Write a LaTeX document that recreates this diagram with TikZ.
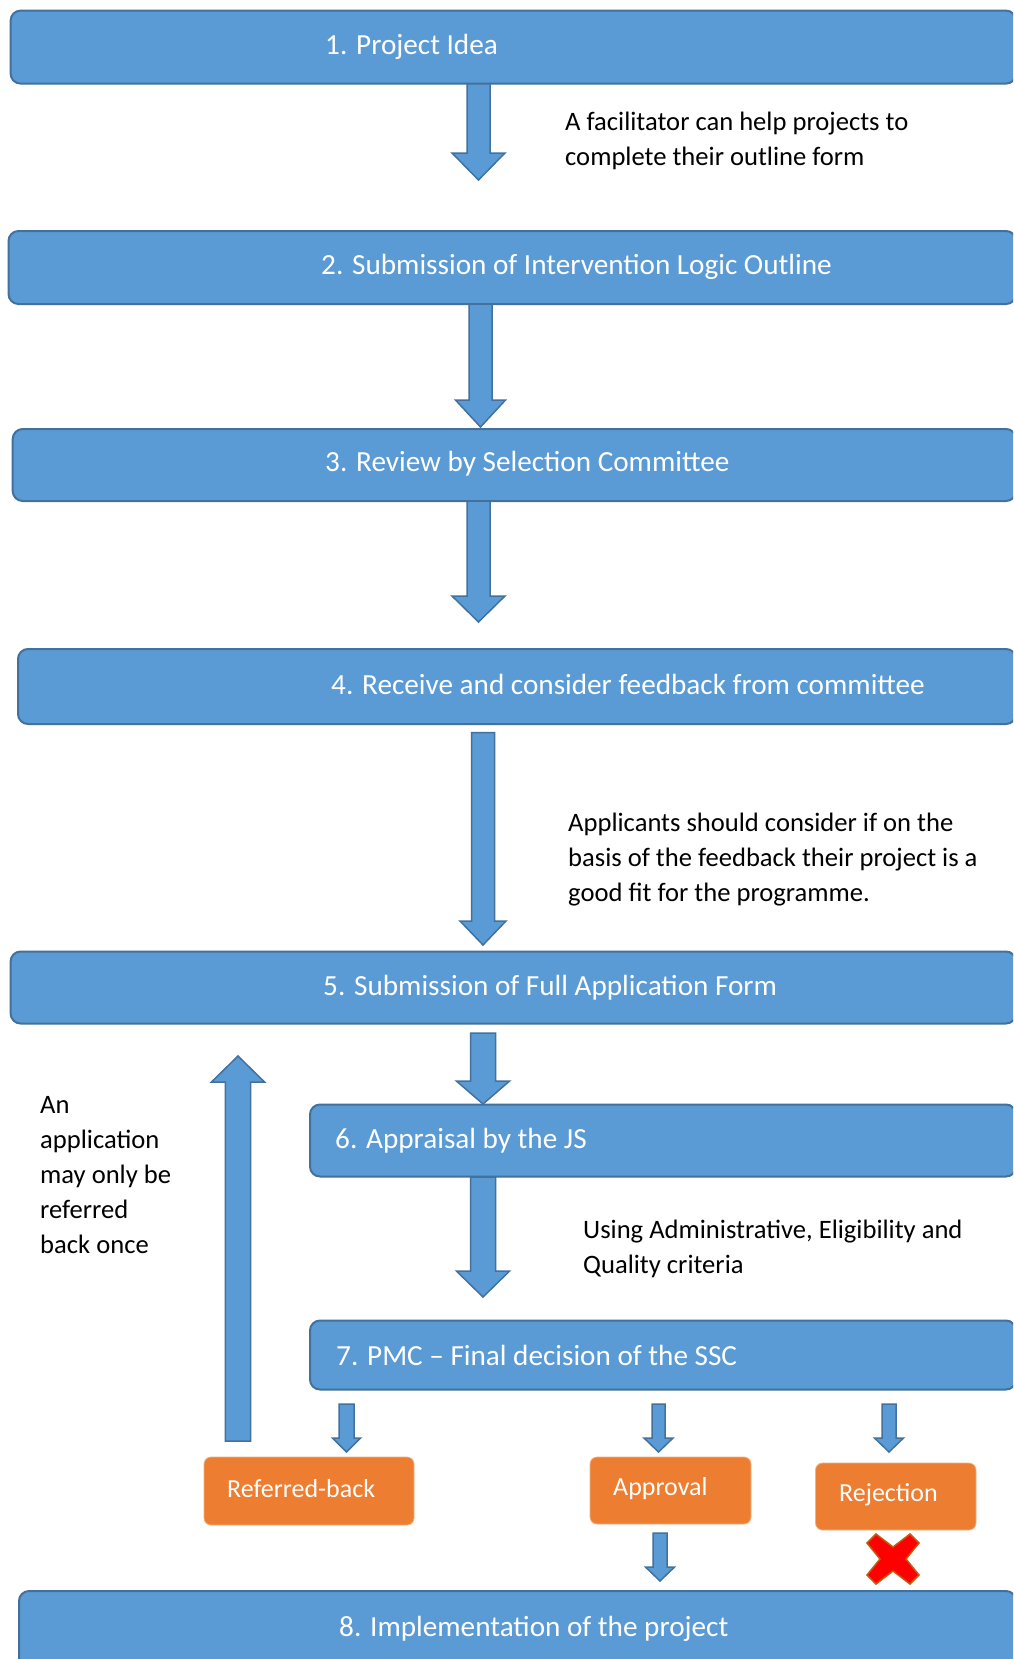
\documentclass[tikz,border=0pt]{standalone}
\usepackage{fontspec}
\setmainfont{Carlito}
\definecolor{bfill}{HTML}{5B9BD5}
\definecolor{bline}{HTML}{41719C}
\definecolor{ofill}{HTML}{ED7D31}
\definecolor{oline}{HTML}{F4B183}
\definecolor{xline}{HTML}{C55A11}
\newcommand{\bkarrow}[6]{% x, tail, base, tip, shaft half, head half
  \draw[arrowsty] (#1-#5,#2) -- (#1+#5,#2) -- (#1+#5,#3) -- (#1+#6,#3) -- (#1,#4) -- (#1-#6,#3) -- (#1-#5,#3) -- cycle;}
\tikzset{
  bbox/.style={draw=bline, fill=bfill, line width=2pt, rounded corners=10pt, inner sep=0pt},
  obox/.style={draw=oline, fill=ofill, line width=0.8pt, rounded corners=7pt, inner sep=0pt},
  arrowsty/.style={draw=bline, fill=bfill, line width=1.5pt, line join=miter},
  btext/.style={text=white, font=\fontsize{29.2}{35}\selectfont, anchor=west, inner sep=0pt},
  otext/.style={text=white, font=\fontsize{26}{32}\selectfont, anchor=west, inner sep=0pt},
  note/.style={text=black, font=\fontsize{26.6}{35}\selectfont, anchor=west, align=left, inner sep=0pt},
}
\begin{document}
\begin{tikzpicture}[x=1pt, y=-1pt]
\useasboundingbox (0,0) rectangle (1013,1659);
\clip (0,0) rectangle (1013,1659);
\fill[white] (0,0) rectangle (1013,1659);

% blue boxes
\node[bbox, minimum width=1005.4, minimum height=73] (b1) at (513.3,47.1) {};
\node[bbox, minimum width=1007.5, minimum height=73] (b2) at (512.25,267.5) {};
\node[bbox, minimum width=1003.3, minimum height=72] (b3) at (514.35,465) {};
\node[bbox, minimum width=998, minimum height=75] (b4) at (517,686.5) {};
\node[bbox, minimum width=1005.4, minimum height=72] (b5) at (513.3,987.5) {};
\node[bbox, minimum width=706, minimum height=72] (b6) at (663,1140.5) {};
\node[bbox, minimum width=706, minimum height=69] (b7) at (663,1355) {};
\node[bbox, minimum width=997, minimum height=109] (b8) at (517.5,1645.5) {};

\node[btext] (t1) at (325,46.5) {1. Project Idea};
\node[btext] (t2) at (321,267) {2. Submission of Intervention Logic Outline};
\node[btext] (t3) at (325,463.5) {3. Review by Selection Committee};
\node[btext] (t4) at (331,684.5) {4. Receive and consider feedback from committee};
\node[btext] (t5) at (323,987.5) {5. Submission of Full Application Form};
\node[btext] (t6) at (335,1140.5) {6. Appraisal by the JS};
\node[btext] (t7) at (336,1355) {7. PMC -- Final decision of the SSC};
\node[btext] (t8) at (339,1628.5) {8. Implementation of the project};

% orange boxes
\node[obox, minimum width=210, minimum height=68] (rb) at (309,1491) {};
\node[obox, minimum width=161, minimum height=67] (ap) at (670.5,1490.5) {};
\node[obox, minimum width=160.5, minimum height=67] (rj) at (895.75,1496.5) {};
\node[otext] (trb) at (227,1488.5) {Referred-back};
\node[otext] (tap) at (613,1489) {Approval};
\node[otext] (trj) at (839,1495) {Rejection};

% block arrows
\bkarrow{478.5}{84}{153}{180}{11.5}{26.5}
\bkarrow{480.5}{304}{400}{427}{11.5}{25}
\bkarrow{478.5}{501}{596}{622}{11.5}{26.5}
\bkarrow{483}{732.5}{921}{945}{11.5}{23}
\bkarrow{483}{1033}{1081}{1104}{12.5}{26.6}
\bkarrow{483}{1177}{1271}{1297}{12.5}{26.6}
\bkarrow{238}{1441}{1082}{1056}{12.7}{26.5}
\bkarrow{346.5}{1404}{1438}{1452}{7.5}{14}
\bkarrow{658.5}{1404}{1438}{1452}{6.5}{14.5}
\bkarrow{889}{1404}{1438}{1452}{7}{14.5}
\bkarrow{660}{1533}{1567}{1581}{7}{14.5}

% red cross
\draw[draw=xline, fill=red, line width=1.5pt, line join=miter, shift={(893,1559)}]
  (-26,-16) -- (-17,-25) -- (0,-12) -- (17,-25) -- (26,-16) -- (13,0)
  -- (26,16) -- (17,25) -- (0,12) -- (-17,25) -- (-26,16) -- (-13,0) -- cycle;

% notes
\node[note] (n1) at (565,141.2) {A facilitator can help projects to\\complete their outline form};
\node[note] (n2) at (568,859.5) {Applicants should consider if on the\\basis of the feedback their project is a\\good fit for the programme.};
\node[note] (n3) at (583,1249) {Using Administrative, Eligibility and\\Quality criteria};
\node[note] (n4) at (40,1175.5) {An\\application\\may only be\\referred\\back once};
\end{tikzpicture}
\end{document}
